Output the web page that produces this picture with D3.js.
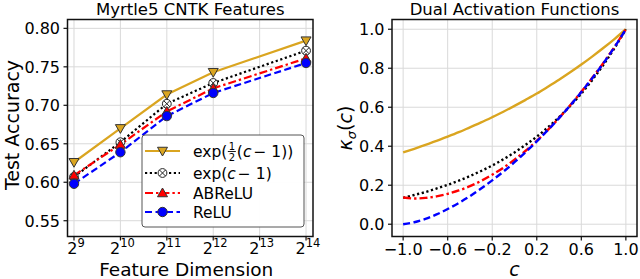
<!DOCTYPE html>
<html>
<head>
<meta charset="utf-8">
<script src="https://cdn.jsdelivr.net/npm/d3@7"></script>
<style>
  body { margin: 0; background: #fff; }
  svg { display: block; font-family: "DejaVu Sans", sans-serif; }
</style>
</head>
<body>
<svg id="chart" width="640" height="279"></svg>
<script>
// left panel: test accuracy vs feature dimension (log2)
const featureDims = [9, 10, 11, 12, 14];
const accExpHalf = [0.626, 0.670, 0.714, 0.743, 0.784];
const accExp = [0.607, 0.652, 0.702, 0.729, 0.771];
const accABReLU = [0.609, 0.649, 0.692, 0.722, 0.761];
const accReLU = [0.598, 0.639, 0.686, 0.716, 0.755];
const leftXTicks = [9, 10, 11, 12, 13, 14];
const leftYTicks = [0.55, 0.60, 0.65, 0.70, 0.75, 0.80];

// right panel: dual activation functions
const cValues = [-1.0, -0.9, -0.8, -0.7, -0.6, -0.5, -0.4, -0.3, -0.2, -0.1, 0.0,
                 0.1, 0.2, 0.3, 0.4, 0.5, 0.6, 0.7, 0.8, 0.9, 1.0];
const dualExpHalf = [0.368, 0.387, 0.407, 0.427, 0.449, 0.472, 0.497, 0.522, 0.549, 0.577, 0.607,
                     0.638, 0.670, 0.705, 0.741, 0.779, 0.819, 0.861, 0.905, 0.951, 1.0];
const dualExp = [0.135, 0.150, 0.165, 0.183, 0.202, 0.223, 0.247, 0.273, 0.301, 0.333, 0.368,
                 0.407, 0.449, 0.497, 0.549, 0.607, 0.670, 0.741, 0.819, 0.905, 1.0];
const dualABReLU = [0.137, 0.132, 0.135, 0.143, 0.156, 0.173, 0.195, 0.222, 0.254, 0.290, 0.331,
                    0.377, 0.428, 0.484, 0.545, 0.610, 0.679, 0.752, 0.829, 0.911, 1.0];
const dualReLU = [0.000, 0.010, 0.027, 0.050, 0.078, 0.109, 0.144, 0.183, 0.225, 0.270, 0.318,
                  0.370, 0.425, 0.483, 0.544, 0.609, 0.678, 0.750, 0.827, 0.910, 1.0];
const rightXTicks = [-1.0, -0.6, -0.2, 0.2, 0.6, 1.0];
const rightYTicks = [0.0, 0.2, 0.4, 0.6, 0.8, 1.0];

const GOLD = '#daa520';
const series = [
  { name: 'expHalf', color: GOLD, dash: null, marker: 'tri-down', acc: accExpHalf, dual: dualExpHalf },
  { name: 'exp', color: '#000', dash: '2.2,2.6', marker: 'otimes', acc: accExp, dual: dualExp },
  { name: 'ABReLU', color: '#ff0000', dash: '8,3,2.4,3', marker: 'tri-up', acc: accABReLU, dual: dualABReLU },
  { name: 'ReLU', color: '#0000ff', dash: '7,3.5', marker: 'circle', acc: accReLU, dual: dualReLU }
];

const svg = d3.select('#chart');
const plotTop = 19.5, plotBottom = 236.5;
const left1 = 67.5, right1 = 313;
const left2 = 392, right2 = 637;

const x1 = d3.scaleLinear().domain([8.86, 14.15]).range([left1, right1]);
const y1 = d3.scaleLinear().domain([0.5295, 0.8115]).range([plotBottom, plotTop]);
const x2 = d3.scaleLinear().domain([-1.1, 1.1]).range([left2, right2]);
const y2 = d3.scaleLinear().domain([-0.063, 1.05]).range([plotBottom, plotTop]);

function drawMarker(g, type, color, cx, cy) {
  const r = 5;
  if (type === 'tri-down') {
    g.append('path')
      .attr('d', `M${cx - r},${cy - r * 0.75}L${cx + r},${cy - r * 0.75}L${cx},${cy + r}Z`)
      .attr('fill', color).attr('stroke', '#333').attr('stroke-width', 1);
  } else if (type === 'tri-up') {
    g.append('path')
      .attr('d', `M${cx - r},${cy + r * 0.75}L${cx + r},${cy + r * 0.75}L${cx},${cy - r}Z`)
      .attr('fill', color).attr('stroke', '#333').attr('stroke-width', 1);
  } else if (type === 'circle') {
    g.append('circle').attr('cx', cx).attr('cy', cy).attr('r', r - 0.3)
      .attr('fill', color).attr('stroke', '#333').attr('stroke-width', 1);
  } else {
    g.append('circle').attr('cx', cx).attr('cy', cy).attr('r', r - 0.6)
      .attr('fill', '#fff').attr('stroke', '#222').attr('stroke-width', 1);
    const d = (r - 0.6) * 0.7;
    g.append('path')
      .attr('d', `M${cx - d},${cy - d}L${cx + d},${cy + d}M${cx - d},${cy + d}L${cx + d},${cy - d}`)
      .attr('stroke', '#222').attr('stroke-width', 1);
  }
}

function panelFrame(xs, ys, l, r) {
  const g = svg.append('g');
  g.selectAll('.gx').data(xs.ticks).join('line')
    .attr('x1', d => xs.scale(d)).attr('x2', d => xs.scale(d))
    .attr('y1', plotTop).attr('y2', plotBottom)
    .attr('stroke', '#d9d9d9').attr('stroke-width', 1);
  g.selectAll('.gy').data(ys.ticks).join('line')
    .attr('x1', l).attr('x2', r)
    .attr('y1', d => ys.scale(d)).attr('y2', d => ys.scale(d))
    .attr('stroke', '#d9d9d9').attr('stroke-width', 1);
  return g;
}

function panelAxes(xs, ys, l, r) {
  const g = svg.append('g');
  g.append('rect').attr('x', l).attr('y', plotTop).attr('width', r - l).attr('height', plotBottom - plotTop)
    .attr('fill', 'none').attr('stroke', '#111').attr('stroke-width', 1.5);
  g.selectAll('.tx').data(xs.ticks).join('line')
    .attr('x1', d => xs.scale(d)).attr('x2', d => xs.scale(d))
    .attr('y1', plotBottom).attr('y2', plotBottom + 4)
    .attr('stroke', '#111').attr('stroke-width', 1.2);
  g.selectAll('.ty').data(ys.ticks).join('line')
    .attr('x1', l - 4).attr('x2', l)
    .attr('y1', d => ys.scale(d)).attr('y2', d => ys.scale(d))
    .attr('stroke', '#111').attr('stroke-width', 1.2);
  g.selectAll('.ly').data(ys.ticks).join('text')
    .attr('x', l - 7.5).attr('y', d => ys.scale(d) + 5.8)
    .attr('text-anchor', 'end').attr('font-size', 16)
    .text(ys.fmt);
  return g;
}

// ---------- left panel ----------
panelFrame({ ticks: leftXTicks, scale: x1 }, { ticks: leftYTicks, scale: y1 }, left1, right1);

const line1 = d3.line().x((d, i) => x1(featureDims[i])).y(d => y1(d));
series.forEach(s => {
  svg.append('path').attr('d', line1(s.acc))
    .attr('fill', 'none').attr('stroke', s.color).attr('stroke-width', 2.2)
    .attr('stroke-dasharray', s.dash);
});
series.forEach(s => {
  const g = svg.append('g');
  s.acc.forEach((v, i) => drawMarker(g, s.marker, s.color, x1(featureDims[i]), y1(v)));
});

panelAxes({ ticks: leftXTicks, scale: x1 },
  { ticks: leftYTicks, scale: y1, fmt: d3.format('.2f') }, left1, right1);

const xl = svg.append('g');
leftXTicks.forEach(t => {
  const tx = xl.append('text').attr('x', x1(t) + 2).attr('y', 254)
    .attr('text-anchor', 'middle').attr('font-size', 16);
  tx.append('tspan').text('2');
  tx.append('tspan').attr('dy', -7).attr('font-size', 11.5).text(t);
});

svg.append('text').attr('x', (left1 + right1) / 2).attr('y', 14.5)
  .attr('text-anchor', 'middle').attr('font-size', 16.5).text('Myrtle5 CNTK Features');
svg.append('text').attr('x', (left1 + right1) / 2 - 4).attr('y', 275.5)
  .attr('text-anchor', 'middle').attr('font-size', 18.5).text('Feature Dimension');
svg.append('text').attr('transform', `translate(19,${(plotTop + plotBottom) / 2 - 3}) rotate(-90)`)
  .attr('text-anchor', 'middle').attr('font-size', 19).text('Test Accuracy');

// legend
const leg = svg.append('g');
leg.append('rect').attr('x', 142).attr('y', 135).attr('width', 162).attr('height', 92)
  .attr('rx', 3).attr('fill', '#fff').attr('fill-opacity', 0.95)
  .attr('stroke', '#555').attr('stroke-width', 1);
const rowsY = [151, 173, 193, 212];
series.forEach((s, i) => {
  leg.append('line').attr('x1', 145).attr('x2', 180).attr('y1', rowsY[i]).attr('y2', rowsY[i])
    .attr('stroke', s.color).attr('stroke-width', 2.2).attr('stroke-dasharray', s.dash);
  drawMarker(leg, s.marker, s.color, 162.5, rowsY[i]);
});
const LFS = 15.5;
function mathLabel(g, x, y, parts) {
  let cx = x;
  parts.forEach(p => {
    const t = g.append('text').attr('x', cx).attr('y', y).attr('font-size', p.fs || LFS)
      .attr('font-style', p.it ? 'italic' : null).text(p.t);
    cx += t.node().getComputedTextLength() + (p.gap || 0);
  });
  return cx;
}
// exp(1/2(c - 1))
let lx = mathLabel(leg, 193, rowsY[0] + 6, [{ t: 'exp(' }]);
const fr = leg.append('g');
fr.append('text').attr('x', lx + 4.5).attr('y', rowsY[0] - 1.5).attr('text-anchor', 'middle')
  .attr('font-size', 10).text('1');
fr.append('line').attr('x1', lx + 0.5).attr('x2', lx + 8.5).attr('y1', rowsY[0] + 0.5).attr('y2', rowsY[0] + 0.5)
  .attr('stroke', '#000').attr('stroke-width', 0.9);
fr.append('text').attr('x', lx + 4.5).attr('y', rowsY[0] + 9.5).attr('text-anchor', 'middle')
  .attr('font-size', 10).text('2');
mathLabel(leg, lx + 9.5, rowsY[0] + 6, [{ t: '(' }, { t: 'c', it: true, gap: 2 }, { t: '− 1))' }]);
mathLabel(leg, 193, rowsY[1] + 6, [{ t: 'exp(' }, { t: 'c', it: true, gap: 2 }, { t: '− 1)' }]);
leg.append('text').attr('x', 193).attr('y', rowsY[2] + 6).attr('font-size', LFS).text('ABReLU');
leg.append('text').attr('x', 193).attr('y', rowsY[3] + 6).attr('font-size', LFS).text('ReLU');

// ---------- right panel ----------
panelFrame({ ticks: rightXTicks, scale: x2 }, { ticks: rightYTicks, scale: y2 }, left2, right2);

const clip = svg.append('clipPath').attr('id', 'clip2');
clip.append('rect').attr('x', left2).attr('y', plotTop).attr('width', right2 - left2).attr('height', plotBottom - plotTop);
const line2 = d3.line().x((d, i) => x2(cValues[i])).y(d => y2(d)).curve(d3.curveMonotoneX);
series.forEach(s => {
  svg.append('path').attr('d', line2(s.dual)).attr('clip-path', 'url(#clip2)')
    .attr('fill', 'none').attr('stroke', s.color).attr('stroke-width', 2.4)
    .attr('stroke-dasharray', s.dash);
});

panelAxes({ ticks: rightXTicks, scale: x2 },
  { ticks: rightYTicks, scale: y2, fmt: d3.format('.1f') }, left2, right2);

svg.append('g').selectAll('text').data(rightXTicks).join('text')
  .attr('x', d => x2(d)).attr('y', 255).attr('text-anchor', 'middle').attr('font-size', 16)
  .text(d => d3.format('.1f')(d).replace('-', '−'));

svg.append('text').attr('x', (left2 + right2) / 2).attr('y', 14.5)
  .attr('text-anchor', 'middle').attr('font-size', 16.5).text('Dual Activation Functions');
svg.append('text').attr('x', (left2 + right2) / 2).attr('y', 275.5)
  .attr('text-anchor', 'middle').attr('font-size', 19).attr('font-style', 'italic').text('c');
const yl2 = svg.append('text').attr('transform', `translate(352,${(plotTop + plotBottom) / 2}) rotate(-90)`)
  .attr('text-anchor', 'middle').attr('font-size', 19);
yl2.append('tspan').attr('font-style', 'italic').text('κ');
yl2.append('tspan').attr('font-style', 'italic').attr('font-size', 13).attr('dy', 4).text('σ');
yl2.append('tspan').attr('dy', -4).text('(');
yl2.append('tspan').attr('font-style', 'italic').text('c');
yl2.append('tspan').text(')');
</script>
</body>
</html>
